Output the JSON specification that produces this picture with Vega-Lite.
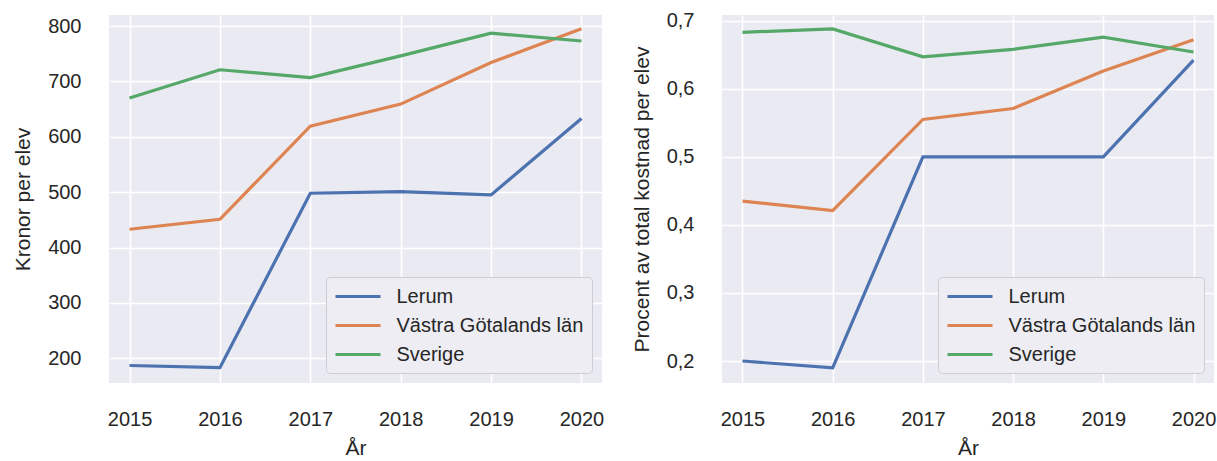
{
  "$schema": "https://vega.github.io/schema/vega-lite/v6.json",
  "background": "white",
  "padding": {"left": 12, "top": 10, "right": 5, "bottom": 0},
  "spacing": 27,
  "data": {"values": [
    {"year": 2015, "region": "Lerum", "kronor": 187, "procent": 0.200},
    {"year": 2016, "region": "Lerum", "kronor": 183, "procent": 0.190},
    {"year": 2017, "region": "Lerum", "kronor": 498, "procent": 0.500},
    {"year": 2018, "region": "Lerum", "kronor": 501, "procent": 0.500},
    {"year": 2019, "region": "Lerum", "kronor": 495, "procent": 0.500},
    {"year": 2020, "region": "Lerum", "kronor": 633, "procent": 0.642},
    {"year": 2015, "region": "Västra Götalands län", "kronor": 433, "procent": 0.435},
    {"year": 2016, "region": "Västra Götalands län", "kronor": 451, "procent": 0.421},
    {"year": 2017, "region": "Västra Götalands län", "kronor": 619, "procent": 0.555},
    {"year": 2018, "region": "Västra Götalands län", "kronor": 659, "procent": 0.571},
    {"year": 2019, "region": "Västra Götalands län", "kronor": 734, "procent": 0.626},
    {"year": 2020, "region": "Västra Götalands län", "kronor": 795, "procent": 0.672},
    {"year": 2015, "region": "Sverige", "kronor": 670, "procent": 0.683},
    {"year": 2016, "region": "Sverige", "kronor": 721, "procent": 0.688},
    {"year": 2017, "region": "Sverige", "kronor": 707, "procent": 0.647},
    {"year": 2018, "region": "Sverige", "kronor": 746, "procent": 0.658},
    {"year": 2019, "region": "Sverige", "kronor": 787, "procent": 0.676},
    {"year": 2020, "region": "Sverige", "kronor": 773, "procent": 0.654}
  ]},
  "hconcat": [
    {
      "width": 493,
      "height": 368,
      "mark": {"type": "line", "strokeWidth": 3.2, "clip": true},
      "encoding": {
        "x": {"field": "year", "type": "quantitative", "title": "År",
              "scale": {"domain": [2014.773, 2020.227], "nice": false, "zero": false},
              "axis": {"values": [2015, 2016, 2017, 2018, 2019, 2020], "format": "d"}},
        "y": {"field": "kronor", "type": "quantitative", "title": "Kronor per elev",
              "scale": {"domain": [155.4, 819.9], "nice": false, "zero": false},
              "axis": {"values": [200, 300, 400, 500, 600, 700, 800]}},
        "color": {"field": "region", "type": "nominal", "title": null,
                  "scale": {"domain": ["Lerum", "Västra Götalands län", "Sverige"], "range": ["#4C72B0", "#DD8452", "#55A868"]}}
      }
    },
    {
      "width": 492,
      "height": 368,
      "mark": {"type": "line", "strokeWidth": 3.2, "clip": true},
      "encoding": {
        "x": {"field": "year", "type": "quantitative", "title": "År",
              "scale": {"domain": [2014.773, 2020.227], "nice": false, "zero": false},
              "axis": {"values": [2015, 2016, 2017, 2018, 2019, 2020], "format": "d"}},
        "y": {"field": "procent", "type": "quantitative", "title": "Procent av total kostnad per elev",
              "scale": {"domain": [0.1677, 0.7084], "nice": false, "zero": false},
              "axis": {"values": [0.2, 0.3, 0.4, 0.5, 0.6, 0.7], "labelExpr": "replace(format(datum.value, '.1f'), '.', ',')"}},
        "color": {"field": "region", "type": "nominal", "title": null,
                  "scale": {"domain": ["Lerum", "Västra Götalands län", "Sverige"], "range": ["#4C72B0", "#DD8452", "#55A868"]}}
      }
    }
  ],
  "resolve": {"scale": {"y": "independent"}, "legend": {"color": "independent"}},
  "config": {
    "font": "Liberation Sans",
    "view": {"fill": "#EAEAF2", "stroke": null},
    "axis": {
      "domain": false,
      "ticks": false,
      "grid": true,
      "gridColor": "#FFFFFF",
      "gridWidth": 1.6,
      "labelFont": "Liberation Sans",
      "labelFontSize": 20,
      "labelColor": "#262626",
      "titleFont": "Liberation Sans",
      "titleFontSize": 21,
      "titleFontWeight": "normal",
      "titleColor": "#262626"
    },
    "axisX": {"labelPadding": 26, "titlePadding": 8},
    "axisY": {"labelPadding": 28, "titlePadding": 14},
    "legend": {
      "orient": "bottom-right",
      "offset": 10,
      "fillColor": "#EDEDF3",
      "strokeColor": "#CDCDD3",
      "cornerRadius": 4,
      "padding": 8,
      "labelFont": "Liberation Sans",
      "labelFontSize": 20,
      "labelColor": "#262626",
      "labelLimit": 0,
      "symbolType": "M-2.25,0H2.25",
      "symbolSize": 400,
      "symbolStrokeWidth": 3,
      "symbolOffset": 12.5,
      "labelOffset": 27,
      "rowPadding": 7
    }
  }
}
